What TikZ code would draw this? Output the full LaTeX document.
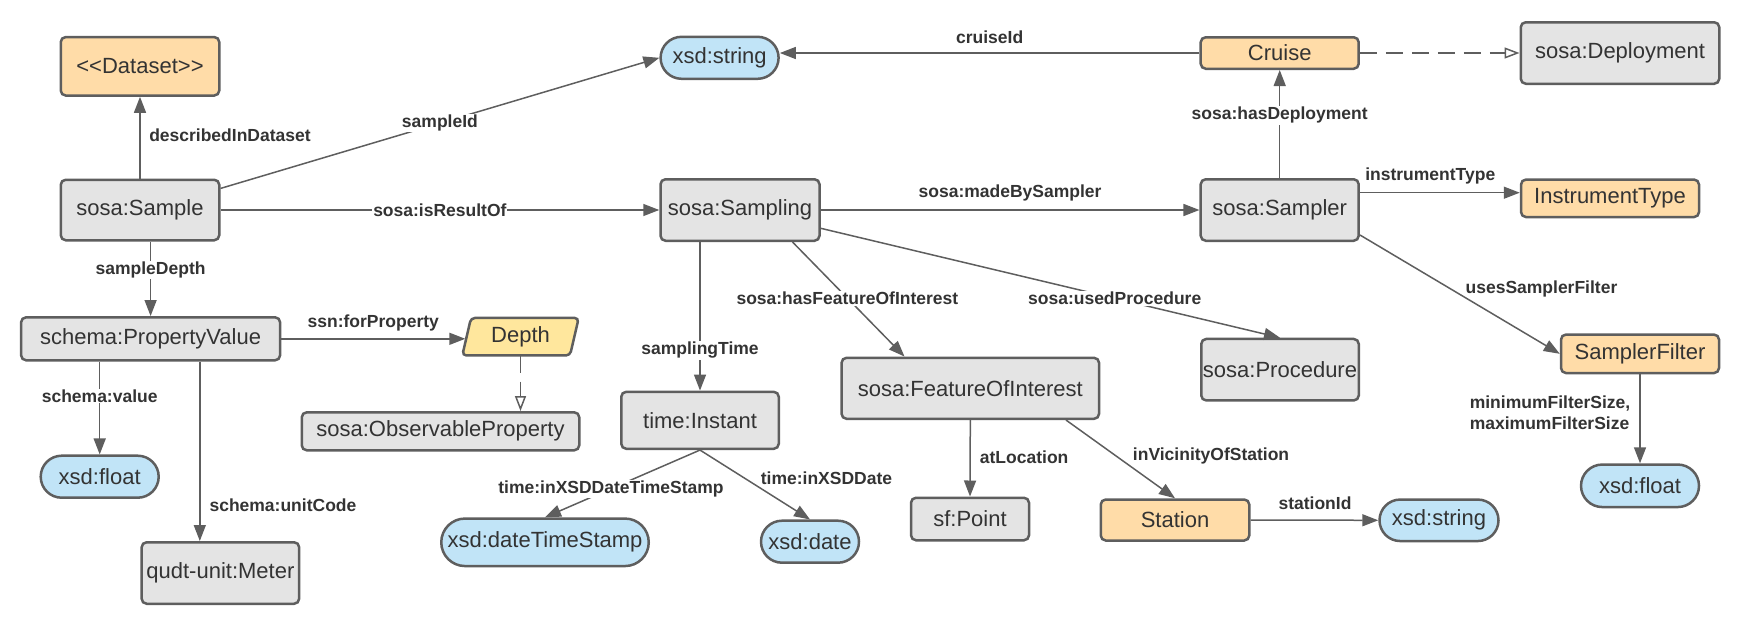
\documentclass[tikz,border=0pt]{standalone}
\usepackage{fontspec}
\setmainfont{Liberation Sans}
\usetikzlibrary{arrows.meta,shapes.misc}
\definecolor{edgec}{HTML}{5E5E5E}
\definecolor{txtc}{HTML}{333333}
\definecolor{grayf}{HTML}{E4E4E4}
\definecolor{orangef}{HTML}{FFDCA8}
\definecolor{bluef}{HTML}{C1E4F7}
\definecolor{yellowf}{HTML}{FFE79D}
\tikzset{
  box/.style={draw=edgec, line width=2.5pt, rounded corners=5pt, inner sep=0pt, text=txtc, font=\fontsize{22}{26}\selectfont},
  graybox/.style={box, fill=grayf},
  orangebox/.style={box, fill=orangef},
  bluebox/.style={box, fill=bluef, rounded rectangle, sharp corners},
  conn/.style={draw=edgec, line width=1.5pt, -{Triangle[length=16pt,width=12pt]}},
  dconn/.style={draw=edgec, line width=1.5pt, dash pattern=on 17pt off 9pt, -{Triangle[open,length=15pt,width=11pt]}},
  lbl/.style={text=txtc, font=\fontsize{17.5}{21.6}\selectfont\bfseries, inner sep=1pt},
  onl/.style={lbl, fill=white},
}
\begin{document}
\begin{tikzpicture}[x=1pt,y=-1pt]
\useasboundingbox (0,0) rectangle (1760,637);

% nodes
\node[orangebox, minimum width=158.5pt, minimum height=58.5pt] (dataset) at (140,66.3) {<{}<Dataset>{}>};
\node[graybox, minimum width=158.5pt, minimum height=60.5pt] (sample) at (140,210) {sosa:Sample};
\node[bluebox, minimum width=118pt, minimum height=42pt] (str1) at (719.6,57.8) {xsd:string};
\node[graybox, minimum width=159pt, minimum height=61.5pt] (sampling) at (740,210) {sosa:Sampling};
\node[orangebox, minimum width=158pt, minimum height=31.5pt] (cruise) at (1279.7,53) {Cruise};
\node[graybox, minimum width=198.5pt, minimum height=61.5pt] (deployment) at (1620,53) {sosa:Deployment};
\node[graybox, minimum width=158pt, minimum height=61.5pt] (sampler) at (1279.7,210) {sosa:Sampler};
\node[orangebox, minimum width=178pt, minimum height=37.5pt] (insttype) at (1610,198.3) {InstrumentType};
\node[graybox, minimum width=259pt, minimum height=43pt] (propval) at (150.6,338.8) {schema:PropertyValue};

\coordinate (depthc) at (520.5,336.7);
\draw[draw=edgec, line width=2.5pt, fill=yellowf, rounded corners=4pt]
  ([shift={(-58.2,18.75)}]depthc) -- ([shift={(-49.5,-18.75)}]depthc) --
  ([shift={(58.2,-18.75)}]depthc) -- ([shift={(49.5,18.75)}]depthc) -- cycle;
\node[inner sep=0pt, minimum width=110pt, minimum height=37.5pt, text=txtc, font=\fontsize{22}{26}\selectfont] (depth) at (depthc) {Depth};

\node[graybox, minimum width=277.5pt, minimum height=38pt] (obsprop) at (440.5,431.3) {sosa:ObservableProperty};
\node[bluebox, minimum width=118pt, minimum height=42pt] (float1) at (99.7,476.7) {xsd:float};
\node[graybox, minimum width=157.5pt, minimum height=61.5pt] (qudt) at (220.4,573) {qudt-unit:Meter};
\node[bluebox, minimum width=207.5pt, minimum height=47.5pt] (dts) at (545,542.3) {xsd:dateTimeStamp};
\node[graybox, minimum width=157.5pt, minimum height=57pt] (instant) at (700,420.3) {time:Instant};
\node[bluebox, minimum width=98pt, minimum height=42pt] (date) at (810,541.7) {xsd:date};
\node[graybox, minimum width=257.5pt, minimum height=61pt] (foi) at (970.3,388.3) {sosa:FeatureOfInterest};
\node[graybox, minimum width=118pt, minimum height=42.5pt] (point) at (970,519) {sf:Point};
\node[orangebox, minimum width=148.5pt, minimum height=41pt] (station) at (1175,520) {Station};
\node[bluebox, minimum width=119pt, minimum height=41.5pt] (str2) at (1439,520.3) {xsd:string};
\node[graybox, minimum width=157.5pt, minimum height=61.5pt] (procedure) at (1280,369.7) {sosa:Procedure};
\node[orangebox, minimum width=158pt, minimum height=38.5pt] (samplerfilter) at (1640,353.8) {SamplerFilter};
\node[bluebox, minimum width=118pt, minimum height=42.5pt] (float2) at (1640,485.8) {xsd:float};

% connectors
\draw[conn] (sample.north) -- node[lbl, pos=0.53, anchor=west, xshift=7.5pt] {describedInDataset} (dataset.south);
\draw[conn] (sample.15) -- node[onl, pos=0.5] {sampleId} (str1.west);
\draw[conn] (sample.east) -- node[onl, pos=0.5] {sosa:isResultOf} (sampling.west);
\draw[conn] (propval.north |- sample.south) -- node[onl, pos=0.38] {sampleDepth} (propval.north);
\draw[conn] (cruise.west) -- node[lbl, pos=0.5, yshift=16pt] {cruiseId} (cruise.west -| str1.east);
\draw[dconn] (cruise.east) -- (deployment.west);
\draw[conn] (sampling.east) -- node[lbl, pos=0.5, yshift=17pt] {sosa:madeBySampler} (sampler.west);
\draw[conn] ([xshift=52.5pt]sampling.south) -- node[onl, pos=0.49] {sosa:hasFeatureOfInterest} ([xshift=-65.8pt]foi.north);
\draw[conn] ([yshift=-18.3pt]sampling.east) -- node[onl, pos=0.64] {sosa:usedProcedure} (procedure.north);
\draw[conn] (instant.north |- sampling.south) -- node[onl, pos=0.73] {samplingTime} (instant.north);
\draw[conn] (sampler.north) -- node[onl, pos=0.58] {sosa:hasDeployment} (cruise.south);
\draw[conn] ([yshift=17.3pt]sampler.east) -- node[lbl, pos=0.44, yshift=16.7pt] {instrumentType} ([yshift=17.3pt]sampler.east -| insttype.west);
\draw[conn] ([yshift=-25pt]sampler.east) -- node[lbl, pos=0.52, anchor=west, yshift=8pt] {usesSamplerFilter} (samplerfilter.west);
\draw[conn] (propval.east) -- node[lbl, pos=0.5, yshift=16.3pt] {ssn:forProperty} (propval.east -| depth.west);
\draw[dconn] (depth.south) -- (depth.south |- obsprop.north);
\draw[conn] (float1.north |- propval.south) -- node[onl, pos=0.37] {schema:value} (float1.north);
\draw[conn] ([xshift=49.2pt]propval.south) -- node[lbl, pos=0.8, anchor=west, xshift=8pt] {schema:unitCode} ([xshift=49.2pt]propval.south |- qudt.north);
\draw[conn] (instant.south) -- node[onl, pos=0.574] {time:inXSDDateTimeStamp} (dts.north);
\draw[conn] (instant.south) -- node[lbl, pos=0.41, anchor=west, xshift=14pt] {time:inXSDDate} (date.north);
\draw[conn] (foi.south) -- node[lbl, pos=0.48, anchor=west, xshift=8pt] {atLocation} (point.north);
\draw[conn] ([xshift=95.7pt]foi.south) -- node[lbl, pos=0.465, anchor=west, xshift=14.5pt] {inVicinityOfStation} (station.north);
\draw[conn] (station.east) -- node[lbl, pos=0.505, yshift=17.3pt] {stationId} (str2.west);
\draw[conn] (samplerfilter.south) -- node[lbl, pos=0.43, anchor=east, xshift=-8pt, align=left] {minimumFilterSize,\\maximumFilterSize} (float2.north);
\end{tikzpicture}
\end{document}
